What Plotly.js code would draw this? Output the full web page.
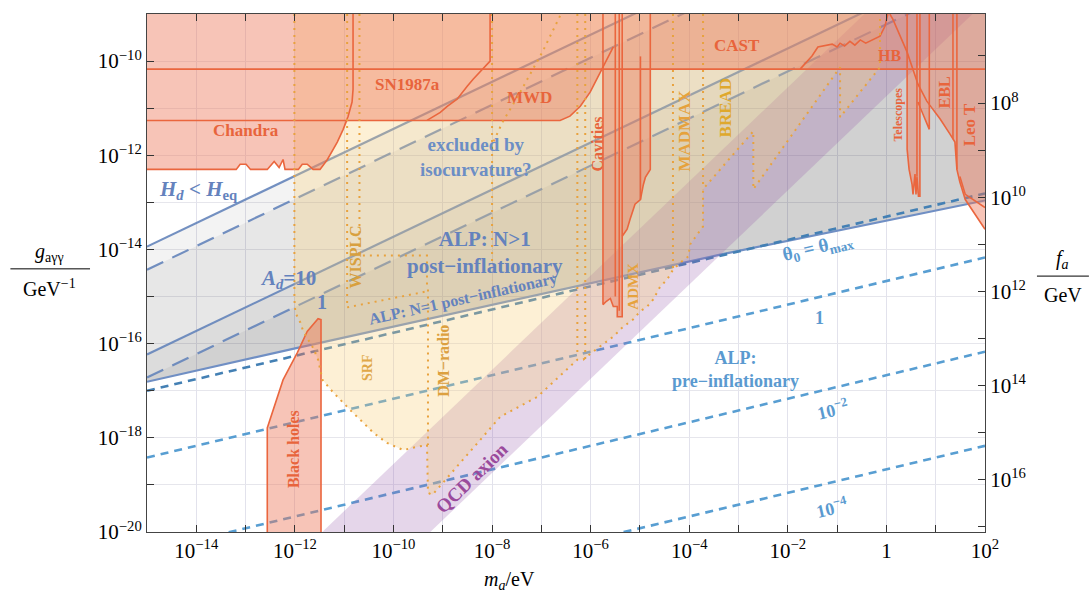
<!DOCTYPE html>
<html><head><meta charset="utf-8">
<script src="https://cdn.plot.ly/plotly-3.0.1.min.js"></script>
<style>html,body{margin:0;padding:0;background:#fff}#chart{width:1091px;height:597px}</style>
</head><body><div id="chart"></div>
<script>
// ---- data (log10 of m_a/eV and g_ayy/GeV^-1) ----
const xMajorExp = [-14,-12,-10,-8,-6,-4,-2,0,2];
const xMinorExp = [-15,-13,-11,-9,-7,-5,-3,-1,1];
const yMajorExp = [-20,-18,-16,-14,-12,-10];
const yMinorExp = [-19,-17,-15,-13,-11,-9];
const faMajorExp = [8,10,12,14,16];
const faMinorExp = [7,9,11,13,15,17];
const faOffset = -2.89; // log10(f_a) = faOffset - log10(g)

// post-inflationary N=1 line (lower boundary)
const lowLineM = [-15, -11.95, -3.37, 2];
const lowLineG = [-16.81, -16.09, -14.11, -12.96];
// lines g ~ m^(1/2): [value at m=1e-15, value at m=1e2]
const parM = [-15, 2];
const hdSolidG = [-13.94, -5.44];
const hdDashG = [-14.43, -5.93];
const ad10G = [-16.23, -7.73];
const ad1G = [-16.72, -8.22];
// pre-inflationary theta lines
const thM = [-15, 2];
const thMaxG = [-17.0, -12.81];
const th1G = [-18.42, -14.17];
const th2G = [-20.42, -16.17];
const th4G = [-22.42, -18.17];
// QCD axion band edges
const qcdM = [-12, 2];
const qcdUpperG = [-20.555, -6.555];
const qcdLowerG = [-22.746, -8.746];

// excluded regions (union outline)
const salmonM = [-15,2,2,1.60,1.49,1.43,1.39,1.29,1.09,0.87,0.87,0.68,0.68,0.62,0.58,0.54,0.52,0.46,0.42,0.42,
 -4.79,-4.79,-4.89,-4.93,-4.99,-5.10,-5.20,-5.26,-5.36,-5.36,-5.46,-5.46,-5.54,-5.60,-5.68,-5.75,-5.75,
 -6.01,-6.21,-6.42,-6.62,-10.92,
 -11.02,-11.14,-11.34,-11.49,-11.63,-11.75,-11.85,-11.93,-12.20,-12.24,-12.32,-12.42,-12.56,-12.90,-12.99,-13.11,-13.19,-15];
const salmonG = [-9,-9,-13.57,-12.94,-12.57,-12.30,-11.72,-11.55,-11.23,-10.89,-11.45,-10.91,-12.87,-12.79,-12.40,-12.83,-12.62,-12.30,-11.87,-10.17,
 -10.17,-12.30,-12.47,-12.62,-12.94,-13.04,-13.36,-13.57,-13.72,-15.43,-15.43,-15.21,-15.21,-15.04,-15.10,-15.17,-10.13,
 -10.66,-10.96,-11.17,-11.26,-11.26,
 -11.45,-11.72,-12.09,-12.30,-12.30,-12.19,-12.19,-12.30,-12.30,-12.09,-12.26,-12.13,-12.30,-12.30,-12.19,-12.19,-12.30,-12.30];
const bhM = [-12.56,-12.56,-12.24,-11.95,-11.75,-11.63,-11.53,-11.47,-11.47];
const bhG = [-20,-17.79,-16.77,-16.19,-15.74,-15.60,-15.47,-15.49,-20];
// region edges
const chandraM = [-15,-13.19,-13.11,-12.99,-12.90,-12.56,-12.42,-12.32,-12.24,-12.20,-11.93,-11.85,-11.75,-11.63,-11.49,-11.34,-11.14,-11.02,-10.92,-10.84,-10.82,-10.82];
const chandraG = [-12.30,-12.30,-12.19,-12.19,-12.30,-12.30,-12.13,-12.26,-12.09,-12.30,-12.30,-12.19,-12.19,-12.30,-12.30,-12.09,-11.72,-11.45,-11.17,-10.87,-10.60,-9];
const mwdM = [-15,-6.62,-6.42,-6.21,-6.01,-5.54];
const mwdG = [-11.26,-11.26,-11.17,-10.96,-10.66,-9.70];
const snM = [-9.32,-9.05,-8.91,-8.71,-8.50,-8.38,-8.04,-8.04];
const snG = [-11.26,-11.09,-10.96,-10.81,-10.53,-10.38,-10.0,-9];
const hbM = [-15, 2];
const hbG = [-10.17, -10.17];
const castM = [-1.75,-1.51,-1.39,-1.28,-1.10,-1.00,-0.94,-0.85,-0.74,-0.64,-0.53,-0.42,-0.27,-0.13,-0.03,0.03];
const castG = [-10.17,-9.89,-9.70,-9.68,-9.64,-9.70,-9.62,-9.68,-9.58,-9.66,-9.55,-9.62,-9.55,-9.47,-9.26,-9];
const eblDiagM = [0.07,0.13,0.42,0.64,0.82,1.09,1.29,1.39,1.43,1.49,1.60,2.0];
const eblDiagG = [-9,-9.11,-9.81,-10.49,-10.85,-11.23,-11.55,-11.72,-12.30,-12.57,-12.94,-13.57];
const leoM = [1.35,1.35,null,1.43,1.43,null,1.49,1.60,2.0];
const leoG = [-9,-11.66,null,-9,-12.30,null,-12.45,-12.83,-13.11];
const telM = [0.42,0.42,0.46,0.52,0.54,0.58,0.60,0.62,0.65,0.68,0.68,null,0.62,0.62];
const telG = [-9,-11.87,-12.30,-12.62,-12.83,-12.40,-12.83,-12.45,-12.87,-12.87,-9,null,-9,-12.45];
const eblM = [0.87,0.87,0.64];
const eblG = [-9,-11.45,-10.87];
const cavM = [-5.75,-5.75,-5.68,-5.60,-5.54,-5.54,-5.46,-5.46,-5.36,-5.36,null,-5.50,-5.50,null,-5.42,-5.42,null,-4.79,-4.79,-4.89,-4.93,-4.99,-5.10,-5.20,-5.26,-5.36,null,-4.99,-4.99];
const cavG = [-9,-15.17,-15.10,-15.04,-15.21,-15.21,-15.21,-15.43,-15.43,-9,null,-9,-15.0,null,-9,-15.3,null,-9,-12.30,-12.47,-12.62,-12.94,-13.04,-13.36,-13.57,-13.72,null,-9.9,-12.94];
// projected sensitivities
const yelM = [-12.01,-12.01,-11.99,-11.89,-11.83,-11.73,-11.63,-11.53,-11.44,-11.22,-11.02,-10.82,-10.67,-10.41,-10.13,-9.80,-9.60,-9.32,-9.30,-9.21,-7.83,-7.08,-6.27,-6.15,-5.95,-5.54,-5.34,-5.14,-5.00,-4.85,-4.73,-4.59,-4.45,-4.33,-4.18,-4.02,-3.98,-3.84,-3.72,-3.72,-2.70,-2.70,-0.94,-0.94,-0.13,-0.13];
const yelG = [-9,-15.06,-15.34,-15.55,-15.74,-15.91,-16.09,-16.34,-16.77,-17.04,-17.26,-17.47,-17.62,-17.89,-18.11,-18.26,-18.21,-18.15,-19.17,-19.21,-17.55,-17.13,-16.34,-16.34,-16.17,-15.85,-15.64,-15.49,-15.32,-15.21,-15.06,-14.79,-14.64,-14.43,-14.28,-14.15,-13.89,-13.68,-13.51,-12.72,-11.49,-12.72,-10.13,-11.19,-10.13,-9];
const dotM = [-10.94,-10.94,null,-10.69,-10.69,-9.32,-9.32,null,-10.94,-9.32,null,-9.30,-9.30,null,-8.0,-8.0,null,-6.27,-6.27,null,-6.11,-6.11,null,-6.62,-6.98,-7.43,-7.79,-8.04,null,-4.33,-4.33,null,-3.72,-3.72];
const dotG = [-9,-15.23,null,-9,-14.13,-14.13,-14.85,null,-15.23,-14.89,null,-14.85,-18.15,null,-9,-14.28,null,-9,-16.19,null,-9,-16.34,null,-9.04,-9.81,-10.66,-11.30,-11.87,null,-9,-14.43,null,-9,-12.72];

// ---- build ----
const P = v => (v === null ? null : Math.pow(10, v));
const SERIF = '"Liberation Serif","DejaVu Serif",serif';
const traces = [];
function fillT(ms, gs, color) {
  traces.push({x: ms.map(P), y: gs.map(P), mode: 'lines', fill: 'toself', fillcolor: color,
    line: {width: 0}, hoverinfo: 'skip', showlegend: false});
}
function lineT(ms, gs, color, width, dash) {
  traces.push({x: ms.map(P), y: gs.map(P), mode: 'lines', line: {color: color, width: width, dash: dash || 'solid'},
    hoverinfo: 'skip', showlegend: false, connectgaps: false});
}
// gray layers between the lower line and each m^(1/2) line
[hdSolidG, hdDashG, ad10G, ad1G].forEach(up => {
  fillT(lowLineM.concat([parM[1], parM[0]]), lowLineG.concat([up[1], up[0]]), 'rgba(0,0,0,0.048)');
});
// blue lines
const lineBlue = 'rgba(100,132,186,0.9)';
lineT(parM, hdSolidG, lineBlue, 2.2);
lineT(parM, hdDashG, lineBlue, 2.2, '18px,10px');
lineT(parM, ad10G, lineBlue, 2.2);
lineT(parM, ad1G, lineBlue, 2.2, '18px,10px');
lineT(lowLineM, lowLineG, 'rgb(112,143,196)', 2.2);
lineT(thM, thMaxG, 'rgb(68,128,180)', 2.6, '8px,6px');
lineT(thM, th1G, 'rgb(88,158,210)', 2.6, '8px,6px');
lineT(thM, th2G, 'rgb(88,158,210)', 2.6, '8px,6px');
lineT(thM, th4G, 'rgb(88,158,210)', 2.6, '8px,6px');
// QCD band
fillT(qcdM.concat([qcdM[1], qcdM[0]]), qcdUpperG.concat([qcdLowerG[1], qcdLowerG[0]]), 'rgba(150,90,170,0.25)');
// projections
fillT(yelM, yelG, 'rgba(250,205,120,0.31)');
// exclusions
const salmonFill = 'rgba(236,118,88,0.43)';
fillT(salmonM, salmonG, salmonFill);
fillT(bhM, bhG, salmonFill);
const edge = 'rgb(234,102,62)';
lineT(chandraM, chandraG, edge, 1.6);
lineT(mwdM, mwdG, edge, 1.6);
lineT(snM, snG, edge, 1.6);
lineT(hbM, hbG, edge, 1.6);
lineT(castM, castG, edge, 1.6);
lineT(eblDiagM, eblDiagG, edge, 1.6);
lineT(leoM, leoG, edge, 1.6);
lineT(telM, telG, edge, 1.6);
lineT(eblM, eblG, edge, 1.6);
lineT(cavM, cavG, edge, 1.6);
lineT(bhM, bhG, edge, 1.6);
// dotted projection boundaries
const dotC = 'rgb(232,162,62)';
lineT(yelM, yelG, dotC, 2, '2px,5px');
lineT(dotM, dotG, dotC, 2, '2px,5px');
// dummy trace for right axis
traces.push({x: [P(-15)], y: [P(10)], yaxis: 'y2', mode: 'markers', marker: {opacity: 0}, hoverinfo: 'skip', showlegend: false});

// ticks
function expLabel(e) { if (e === 0) return '1'; return '10<sup>' + (e < 0 ? '\u2212' + (-e) : e) + '</sup>'; }

const annotations = [];
function lab(text, m, g, color, size, angle) {
  annotations.push({x: m, y: g, xref: 'x', yref: 'y', text: text, showarrow: false,
    font: {family: SERIF, size: size, color: color}, textangle: angle || 0});
}
const cS = '#e8643c', cY = '#e6a23c', cB = '#6482bd', cL = '#5a9ad0';
lab('<b>Chandra</b>', -12.99, -11.47, cS, 17);
lab('<b>SN1987a</b>', -9.72, -10.49, cS, 17);
lab('<b>MWD</b>', -7.25, -10.77, cS, 17);
lab('<b>CAST</b>', -3.03, -9.66, cS, 17);
lab('<b>HB</b>', 0.07, -9.89, cS, 16);
lab('<b>Cavities</b>', -5.87, -11.77, cS, 16, -90);
lab('<b>Telescopes</b>', 0.24, -11.13, cS, 12, -90);
lab('<b>EBL</b>', 1.17, -10.66, cS, 16, -90);
lab('<b>Leo T</b>', 1.68, -11.36, cS, 17, -90);
lab('<b>Black holes</b>', -12.03, -18.23, cS, 16, -90);
lab('<b>MADMAX</b>', -4.10, -11.47, cY, 17, -90);
lab('<b>BREAD</b>', -3.27, -10.98, '#dfa82c', 17, -90);
lab('<b>ADMX</b>', -5.14, -14.79, cY, 15, -90);
lab('<b>WISPLC</b>', -10.78, -14.17, '#d8a03e', 16, -90);
lab('<b>SRF</b>', -10.53, -16.51, '#e0a848', 14, -90);
lab('<b>DM\u2212radio</b>', -8.99, -16.36, '#dca040', 16, -90);
lab('<b>QCD axion</b>', -8.40, -18.85, '#9a4a9c', 19, -44);
lab('<b>excluded by<br>isocurvature?</b>', -8.32, -12.04, '#6c8ec5', 19);
lab('<b><i>H<sub>d</sub></i> &lt; <i>H</i><sub>eq</sub></b>', -13.96, -12.74, cB, 21);
lab('<b><i>A<sub>d</sub></i>=10</b>', -12.13, -14.62, cB, 21);
lab('<b>1</b>', -11.44, -15.11, cB, 20);
lab('<b>ALP: N&gt;1<br>post\u2212inflationary</b>', -8.14, -14.06, cB, 21);
lab('<b>ALP: N=1 post\u2212inflationary</b>', -8.59, -15.06, cB, 16, -12.5);
lab('<b>\u03b8<sub>0</sub> = \u03b8<sub>max</sub></b>', -1.39, -13.96, cL, 19, -13);
lab('<b>1</b>', -1.35, -15.45, cL, 18);
lab('<b>ALP:<br>pre\u2212inflationary</b>', -3.07, -16.55, cL, 18);
lab('<b>10<sup>\u22122</sup></b>', -1.10, -17.40, cL, 18, -13);
lab('<b>10<sup>\u22124</sup></b>', -1.10, -19.49, cL, 18, -13);
// axis titles (paper coords)
function pap(text, x, y, size) {
  annotations.push({x: x, y: y, xref: 'paper', yref: 'paper', text: text, showarrow: false,
    font: {family: SERIF, size: size, color: '#000'}, xanchor: 'center', yanchor: 'middle'});
}
pap('<i>m<sub>a</sub></i>/eV', 0.433, -0.093, 20);
pap('<i>g</i><sub>a\u03b3\u03b3</sub>', -0.116, 0.540, 20);
pap('GeV<sup>\u22121</sup>', -0.116, 0.471, 20);
pap('<i>f<sub>a</sub></i>', 1.093, 0.527, 20);
pap('GeV', 1.093, 0.458, 20);

const shapes = [
  {type: 'line', xref: 'paper', yref: 'paper', x0: -0.163, x1: -0.068, y0: 0.508, y1: 0.508, line: {color: '#000', width: 1}},
  {type: 'line', xref: 'paper', yref: 'paper', x0: 1.062, x1: 1.124, y0: 0.494, y1: 0.494, line: {color: '#000', width: 1}}
];

const axisCommon = {type: 'log', ticks: 'inside', ticklen: 7, tickcolor: '#333', showline: true, linecolor: '#444', linewidth: 1,
  zeroline: false, tickfont: {family: SERIF, size: 21, color: '#000'}};
const minorCommon = {ticks: 'inside', ticklen: 7, tickcolor: '#333'};
const layout = {
  width: 1091, height: 597, margin: {l: 147, r: 106, t: 14, b: 65},
  paper_bgcolor: '#fff', plot_bgcolor: '#fff', showlegend: false,
  xaxis: Object.assign({}, axisCommon, {range: [-15, 2], tickvals: xMajorExp.map(P), ticktext: xMajorExp.map(expLabel),
    mirror: 'ticks', showgrid: true, gridcolor: '#e2e2ec', gridwidth: 1,
    minor: Object.assign({}, minorCommon, {tickvals: xMinorExp.map(P), showgrid: true, gridcolor: '#e2e2ec', gridwidth: 1})}),
  yaxis: Object.assign({}, axisCommon, {range: [-20, -9], tickvals: yMajorExp.map(P), ticktext: yMajorExp.map(expLabel),
    mirror: true, showgrid: true, gridcolor: '#e6e6ec', gridwidth: 1,
    minor: Object.assign({}, minorCommon, {tickvals: yMinorExp.map(P), showgrid: true, gridcolor: '#e6e6ec', gridwidth: 1})}),
  yaxis2: Object.assign({}, axisCommon, {overlaying: 'y', side: 'right', range: [faOffset + 20, faOffset + 9],
    tickvals: faMajorExp.map(P), ticktext: faMajorExp.map(expLabel), showgrid: false,
    minor: Object.assign({}, minorCommon, {tickvals: faMinorExp.map(P), showgrid: false})}),
  annotations: annotations, shapes: shapes
};
Plotly.newPlot('chart', traces, layout, {staticPlot: true});
</script></body></html>
